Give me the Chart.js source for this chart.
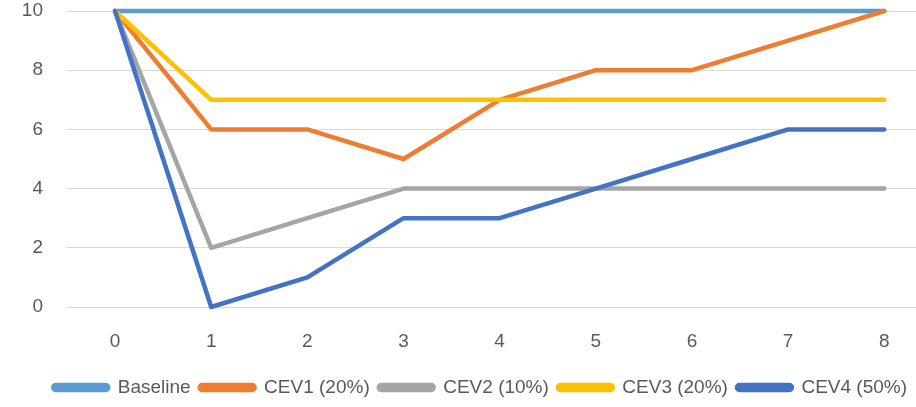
<!DOCTYPE html>
<html lang="en">
<head>
    <meta charset="UTF-8">
    <title>CEV chart</title>
    <script src="https://cdn.jsdelivr.net/npm/chart.js"></script>
    <style>
        html, body { margin: 0; padding: 0; background: #fff; }
        #wrap { width: 916px; height: 407px; }
    </style>
</head>
<body>
    <div id="wrap"><canvas id="chart"></canvas></div>

    <script>
        // Values
        const xLabels = [0, 1, 2, 3, 4, 5, 6, 7, 8];
        const yTicks = [0, 2, 4, 6, 8, 10];
        const seriesNames = ['Baseline', 'CEV1 (20%)', 'CEV2 (10%)', 'CEV3 (20%)', 'CEV4 (50%)'];
        const baseline = [10, 10, 10, 10, 10, 10, 10, 10, 10];
        const cev1 = [10, 6, 6, 5, 7, 8, 8, 9, 10];
        const cev2 = [10, 2, 3, 4, 4, 4, 4, 4, 4];
        const cev3 = [10, 7, 7, 7, 7, 7, 7, 7, 7];
        const cev4 = [10, 0, 1, 3, 3, 4, 5, 6, 6];

        const colors = ['#5B9BD5', '#ED7D31', '#A5A5A5', '#FFC000', '#4472C4'];
        const allSeries = [baseline, cev1, cev2, cev3, cev4];

        const font = { family: '"Liberation Sans", Arial, sans-serif', size: 19 };

        // later series drawn on top, like the original
        const datasets = allSeries.map((vals, i) => ({
            label: seriesNames[i],
            data: vals,
            borderColor: colors[i],
            backgroundColor: colors[i],
            borderWidth: 4.5,
            pointRadius: 0,
            tension: 0,
            fill: false,
            clip: false,
            borderJoinStyle: 'round',
            borderCapStyle: 'round',
            order: allSeries.length - i
        }));

        new Chart(document.getElementById('chart'), {
            type: 'line',
            data: { labels: xLabels, datasets: datasets },
            options: {
                responsive: true,
                maintainAspectRatio: false,
                animation: false,
                layout: { padding: 0 },
                plugins: {
                    tooltip: { enabled: false },
                    legend: {
                        position: 'bottom',
                        align: 'end',
                        labels: {
                            font: font,
                            color: '#595959',
                            boxWidth: 55,
                            boxHeight: 5,
                            useBorderRadius: true,
                            borderRadius: 2.5,
                            padding: 9,
                            sort: (a, b) => a.datasetIndex - b.datasetIndex
                        }
                    }
                },
                scales: {
                    x: {
                        type: 'linear',
                        min: -0.51,
                        max: 8.33,
                        afterBuildTicks: (scale) => { scale.ticks = xLabels.map(v => ({ value: v })); },
                        afterFit: (scale) => { scale.height = 62; },
                        grid: { display: false },
                        border: { display: false },
                        ticks: { font: font, color: '#595959', padding: 15, maxRotation: 0, autoSkip: false }
                    },
                    y: {
                        min: 0,
                        max: 10,
                        afterBuildTicks: (scale) => { scale.ticks = yTicks.map(v => ({ value: v })); },
                        afterFit: (scale) => { scale.width = 66; scale.paddingTop = 11; scale.paddingBottom = 0; },
                        grid: { color: '#d9d9d9', lineWidth: 1, drawTicks: false },
                        border: { display: false },
                        ticks: { font: font, color: '#595959', padding: 23 }
                    }
                }
            }
        });
    </script>
</body>
</html>
